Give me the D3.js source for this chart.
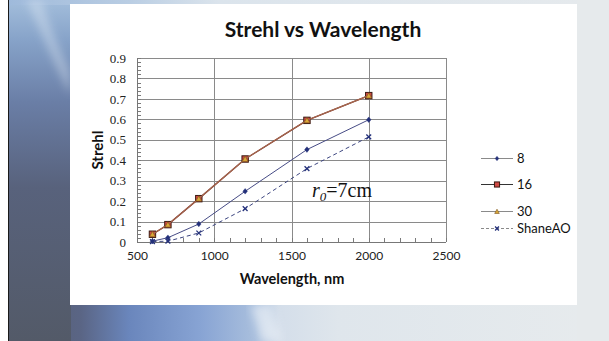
<!DOCTYPE html>
<html>
<head>
<meta charset="utf-8">
<script src="https://cdn.jsdelivr.net/npm/d3@7"></script>
<style>
  html, body { margin: 0; padding: 0; background: #ffffff; }
  svg { display: block; }
</style>
</head>
<body>
<svg id="chart" width="609" height="341"></svg>
<script>
// Wavelengths (nm) at which Strehl ratio was evaluated
const wavelengths = [600, 700, 900, 1200, 1600, 2000];

// Strehl ratio per configuration
const strehl8 = [0.004, 0.021, 0.088, 0.248, 0.452, 0.598];
const strehl16 = [0.038, 0.085, 0.212, 0.406, 0.595, 0.716];
const strehl30 = [0.038, 0.085, 0.212, 0.406, 0.595, 0.716];
const strehlShane = [0.002, 0.004, 0.044, 0.163, 0.359, 0.514];

const seriesNames = ["8", "16", "30", "ShaneAO"];
const xTicks = [500, 1000, 1500, 2000, 2500];
const yTicks = [0, 0.1, 0.2, 0.3, 0.4, 0.5, 0.6, 0.7, 0.8, 0.9];

const svg = d3.select("#chart");
const W = 609, H = 341;

// ---- slide background ----
const defs = svg.append("defs");
const gH = defs.append("linearGradient").attr("id", "bgH").attr("x1", 0).attr("x2", 1).attr("y1", 0).attr("y2", 0);
[[0, "#565d6c"], [0.12, "#5a6585"], [0.2, "#6a86bc"], [0.32, "#88a4d4"], [0.41, "#a9bfdd"],
 [0.45, "#d4deea"], [0.55, "#dfe6ec"], [1, "#e7ebed"]]
  .forEach(([o, c]) => gH.append("stop").attr("offset", o).attr("stop-color", c));
const gL = defs.append("linearGradient").attr("id", "bgL").attr("x1", 0).attr("x2", 0).attr("y1", 0).attr("y2", 1);
[[0, "#a3bedc"], [0.12, "#86a2c8"], [0.3, "#6a7ea6"], [0.55, "#58627c"], [1, "#535a68"]]
  .forEach(([o, c]) => gL.append("stop").attr("offset", o).attr("stop-color", c));
const gT = defs.append("linearGradient").attr("id", "bgT").attr("x1", 0).attr("x2", 1).attr("y1", 0).attr("y2", 0);
[[0, "#9fbadb"], [0.2, "#b9cde3"], [0.35, "#dbe4ec"], [1, "#e6eaed"]]
  .forEach(([o, c]) => gT.append("stop").attr("offset", o).attr("stop-color", c));
defs.append("filter").attr("id", "soft").append("feGaussianBlur").attr("stdDeviation", 4);

svg.append("rect").attr("x", 0).attr("y", 0).attr("width", W).attr("height", H).attr("fill", "#ffffff");
svg.append("rect").attr("x", 9).attr("y", 0).attr("width", W - 9).attr("height", H).attr("fill", "url(#bgH)");
svg.append("rect").attr("x", 9).attr("y", 0).attr("width", 62).attr("height", H).attr("fill", "url(#bgL)");
svg.append("rect").attr("x", 9).attr("y", 0).attr("width", W - 9).attr("height", 5).attr("fill", "url(#bgT)");
svg.append("rect").attr("x", 577).attr("y", 0).attr("width", 32).attr("height", H).attr("fill", "#e6eaec");
// soft light streaks on the slide
svg.append("path")
  .attr("d", "M26,0 C40,30 52,60 70,95 L70,72 C58,45 48,22 42,0 Z")
  .attr("fill", "#e8f0f8").attr("opacity", 0.35).attr("filter", "url(#soft)");
svg.append("path")
  .attr("d", "M250,305 L262,341 L282,341 L270,305 Z")
  .attr("fill", "#eef3f8").attr("opacity", 0.6).attr("filter", "url(#soft)");
svg.append("line").attr("x1", 8.5).attr("x2", 8.5).attr("y1", 0).attr("y2", H)
  .attr("stroke", "#1a1a1a").attr("stroke-width", 1);

// chart panel
svg.append("rect").attr("x", 70).attr("y", 4).attr("width", 507).attr("height", 301).attr("fill", "#ffffff");

// ---- scales ----
const x = d3.scaleLinear().domain([500, 2500]).range([137, 446]);
const y = d3.scaleLinear().domain([0, 0.9]).range([242, 58]);

const g = svg.append("g");

// gridlines
g.selectAll(".hgrid").data(yTicks.slice(1)).join("line")
  .attr("x1", x(500)).attr("x2", x(2500))
  .attr("y1", d => Math.round(y(d)) + 0.5).attr("y2", d => Math.round(y(d)) + 0.5)
  .attr("stroke", "#8a8a8a").attr("stroke-width", 1);
g.selectAll(".vgrid").data(xTicks.slice(1)).join("line")
  .attr("x1", d => Math.round(x(d)) + 0.5).attr("x2", d => Math.round(x(d)) + 0.5)
  .attr("y1", y(0.9)).attr("y2", y(0))
  .attr("stroke", "#8a8a8a").attr("stroke-width", 1);

// minor ticks (inside the plot)
const yMinor = d3.range(0, 0.9001, 0.02);
g.selectAll(".ymin").data(yMinor).join("line")
  .attr("x1", x(500)).attr("x2", x(500) + 4)
  .attr("y1", d => Math.round(y(d)) + 0.5).attr("y2", d => Math.round(y(d)) + 0.5)
  .attr("stroke", "#7a7a7a").attr("stroke-width", 1);
const xMinor = d3.range(500, 2501, 100);
g.selectAll(".xmin").data(xMinor).join("line")
  .attr("x1", d => Math.round(x(d)) + 0.5).attr("x2", d => Math.round(x(d)) + 0.5)
  .attr("y1", y(0)).attr("y2", y(0) - 4)
  .attr("stroke", "#7a7a7a").attr("stroke-width", 1);

// axes lines
g.append("line").attr("x1", Math.round(x(500)) + 0.5).attr("x2", Math.round(x(500)) + 0.5)
  .attr("y1", y(0.9)).attr("y2", y(0) + 0.5).attr("stroke", "#777").attr("stroke-width", 1);
g.append("line").attr("x1", x(500)).attr("x2", x(2500))
  .attr("y1", Math.round(y(0)) + 0.5).attr("y2", Math.round(y(0)) + 0.5).attr("stroke", "#777").attr("stroke-width", 1);

// tick labels
const yAxis = d3.axisLeft(y).tickValues(yTicks).tickSize(0).tickPadding(0)
  .tickFormat(d => d === 0 ? "0" : d3.format(".1f")(d));
const ya = svg.append("g").attr("transform", "translate(126,0)").call(yAxis)
  .attr("font-family", null).attr("font-size", null);
ya.select(".domain").remove();
ya.selectAll("text").style("font-family", "'Liberation Serif', 'Times New Roman', serif")
  .style("font-size", "13px").attr("fill", "#222");

const xAxis = d3.axisBottom(x).tickValues(xTicks).tickSize(0).tickPadding(0).tickFormat(d3.format("d"));
const xa = svg.append("g").attr("transform", "translate(0,251)").call(xAxis)
  .attr("font-family", null).attr("font-size", null);
xa.select(".domain").remove();
xa.selectAll("text").style("font-family", "Lato, sans-serif").style("font-size", "12px").attr("fill", "#222");

// titles
svg.append("text").attr("x", 323).attr("y", 37).attr("text-anchor", "middle")
  .style("font-family", "Lato, sans-serif").style("font-weight", "bold").style("font-size", "21px")
  .attr("fill", "#111").text("Strehl vs Wavelength");
svg.append("text").attr("x", 292).attr("y", 284).attr("text-anchor", "middle")
  .style("font-family", "Lato, sans-serif").style("font-weight", "bold").style("font-size", "14.5px")
  .attr("fill", "#111").text("Wavelength, nm");
svg.append("text").attr("transform", "translate(103,150) rotate(-90)").attr("text-anchor", "middle")
  .style("font-family", "Lato, sans-serif").style("font-weight", "bold").style("font-size", "15px")
  .attr("fill", "#111").text("Strehl");

// ---- series ----
const series = [
  { name: "8", values: strehl8, line: "#474c86", width: 1, dash: null, marker: "diamond", fill: "#23307a", stroke: "#23307a" },
  { name: "16", values: strehl16, line: "#7a2a22", width: 1.4, dash: null, marker: "square", fill: "#d04a44", stroke: "#3a1a12" },
  { name: "30", values: strehl30, line: "#a66a50", width: 1.1, dash: null, marker: "triangle", fill: "#d9a83a", stroke: "#7a5018" },
  { name: "ShaneAO", values: strehlShane, line: "#3c4580", width: 1, dash: "4,3", marker: "cross", fill: "#23307a", stroke: "#23307a" }
];

const lineGen = d3.line().x(d => x(d[0])).y(d => y(d[1]));

function drawMarker(sel, type, fill, stroke, small) {
  const k = small ? 0.8 : 1;
  if (type === "diamond") {
    sel.append("path").attr("d", `M0,${-2.8 * k} L${2.3 * k},0 L0,${2.8 * k} L${-2.3 * k},0 Z`)
      .attr("fill", fill).attr("stroke", stroke).attr("stroke-width", 0.4);
  } else if (type === "square") {
    const h = 3.2 * k;
    sel.append("rect").attr("x", -h).attr("y", -h).attr("width", 2 * h).attr("height", 2 * h)
      .attr("fill", fill).attr("stroke", stroke).attr("stroke-width", 1);
  } else if (type === "triangle") {
    const t = small ? 2.3 : 2.9;
    sel.append("path").attr("d", `M0,${-t} L${t},${t * 0.85} L${-t},${t * 0.85} Z`)
      .attr("fill", fill).attr("stroke", stroke).attr("stroke-width", 0.6);
  } else if (type === "cross") {
    const c = 2.4 * k;
    sel.append("path").attr("d", `M${-c},${-c} L${c},${c} M${-c},${c} L${c},${-c}`)
      .attr("stroke", stroke).attr("stroke-width", 1.3).attr("fill", "none");
  }
}

const plot = svg.append("g");
series.forEach(s => {
  const pts = wavelengths.map((w, i) => [w, s.values[i]]);
  plot.append("path").datum(pts).attr("d", lineGen)
    .attr("fill", "none").attr("stroke", s.line).attr("stroke-width", s.width)
    .attr("stroke-dasharray", s.dash);
  pts.forEach(p => {
    const m = plot.append("g").attr("transform", `translate(${x(p[0])},${y(p[1])})`);
    drawMarker(m, s.marker, s.fill, s.stroke, false);
  });
});

// annotation r0 = 7 cm
const ann = svg.append("text").attr("x", 312).attr("y", 197)
  .style("font-family", "'Liberation Serif', serif").style("font-size", "20px").attr("fill", "#111");
ann.append("tspan").style("font-style", "italic").text("r");
ann.append("tspan").style("font-style", "italic").style("font-size", "13px").attr("dy", 4).text("0");
ann.append("tspan").attr("dy", -4).text("=7cm");

// ---- legend ----
const legendY = [158, 184, 211, 228];
const leg = svg.append("g");
series.forEach((s, i) => {
  const ly = legendY[i];
  leg.append("line").attr("x1", 481).attr("x2", 513).attr("y1", ly + 0.5).attr("y2", ly + 0.5)
    .attr("stroke", i === 1 ? "#333" : "#8a8a8a").attr("stroke-width", 1)
    .attr("stroke-dasharray", s.dash ? "3,2" : null);
  const m = leg.append("g").attr("transform", `translate(497,${ly + 0.5})`);
  drawMarker(m, s.marker, s.fill, s.stroke, true);
  leg.append("text").attr("x", 517).attr("y", ly + 5)
    .style("font-family", "Lato, sans-serif").style("font-size", "13px").attr("fill", "#111").text(s.name);
});
</script>
</body>
</html>
